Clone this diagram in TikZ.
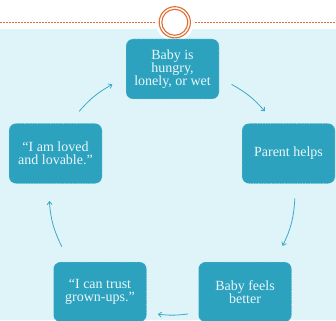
\documentclass[tikz,border=0pt]{standalone}
\usepackage{fontspec}
\setmainfont{Liberation Serif}
\usetikzlibrary{arrows.meta,calc}
\definecolor{bgc}{HTML}{DFF4F9}
\definecolor{boxc}{HTML}{2CA2BF}
\definecolor{boxline}{HTML}{A8DCE8}
\definecolor{boxtext}{HTML}{EAF7FB}
\definecolor{arrc}{HTML}{3CAAC8}
\definecolor{orng}{HTML}{E06E32}
\tikzset{
  stepbox/.style={rectangle, rounded corners=7pt, fill=boxc, draw=boxline, dotted,
    line width=0.6pt, minimum width=93pt, minimum height=60pt, align=center,
    text=boxtext, font=\fontsize{14}{13.3}\selectfont, inner sep=0pt},
  cyc/.style={draw=arrc, line width=0.8pt, -{Straight Barb[length=3pt,width=5pt]}},
  ring/.style={draw=orng, line width=1.1pt}
}
\begin{document}
\begin{tikzpicture}[x=1pt,y=1pt]
\useasboundingbox (0,0) rectangle (336,-320);
\clip (0,0) rectangle (336,-320);
\fill[bgc] (0,-29.3) rectangle (336,-320);
\draw[orng, line width=0.8pt, dash pattern=on 2pt off 1pt] (0,-22.3) -- (336,-22.3);
\fill[white] (174.8,-22.3) circle (19);
\draw[ring] (174.8,-22.3) circle (15.6);
\draw[ring] (174.8,-22.3) circle (13.0);

\node[stepbox] (top) at (172.5,-69) {Baby is\\hungry,\\lonely, or wet};
\node[stepbox] (right) at (288.5,-153.5) {Parent helps};
\node[stepbox] (br) at (245,-292) {Baby feels\\better};
\node[stepbox] (bl) at (100,-292) {“I can trust\\grown-ups.”};
\node[stepbox] (left) at (55.5,-153.5) {“I am loved\\and lovable.”};

\coordinate (O) at (172,-192);
\coordinate (a1s) at ($(O)+(139:123)$);
\coordinate (a1e) at ($(O)+(119:123)$);
\coordinate (a2s) at ($(O)+(61:123)$);
\coordinate (a2e) at ($(O)+(41:123)$);
\coordinate (a3s) at ($(O)+(-3:123)$);
\coordinate (a3e) at ($(O)+(-26:123)$);
\coordinate (a4s) at ($(O)+(-82.5:123)$);
\coordinate (a4e) at ($(O)+(-96.6:123)$);
\coordinate (a5s) at ($(O)+(-153.6:123)$);
\coordinate (a5e) at ($(O)+(-175.8:123)$);

\draw[cyc] (a1s) to[bend left=10] (a1e);
\draw[cyc] (a2s) to[bend left=10] (a2e);
\draw[cyc] (a3s) to[bend left=11.5] (a3e);
\draw[cyc] (a4s) to[bend left=7] (a4e);
\draw[cyc] (a5s) to[bend left=11] (a5e);
\end{tikzpicture}
\end{document}
